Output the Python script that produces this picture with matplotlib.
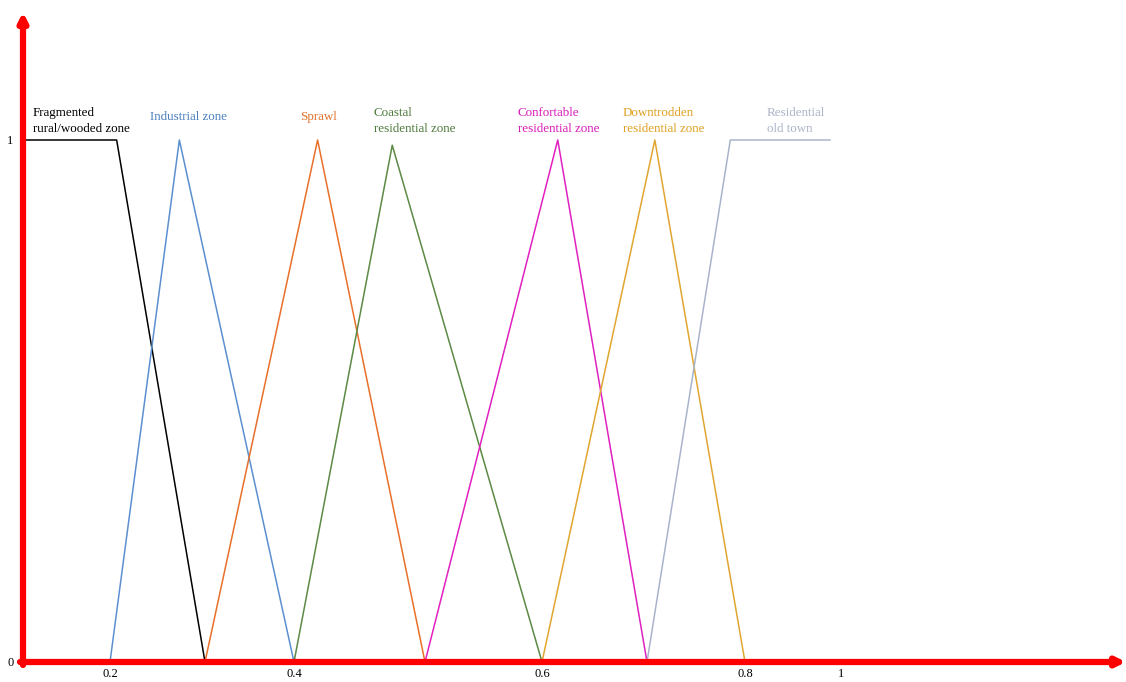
import numpy as np
import matplotlib.pyplot as plt

plt.rcParams['font.family'] = ['Liberation Serif', 'DejaVu Serif']

# the original drawing has an uneven x axis: value -> pixel anchors
scale_vals = [-0.1, 0.0, 0.2, 0.3, 0.4, 0.5, 0.6, 0.7, 0.8, 1.0, 1.7]
scale_px = [-20, 23, 110, 205, 294, 425, 542, 647, 745, 841, 1177]

# membership functions
frag_x = [0.0, 0.207, 0.3]
frag_y = [1, 1, 0]
indus_x = [0.2, 0.273, 0.4]
indus_y = [0, 1, 0]
sprawl_x = [0.3, 0.418, 0.5]
sprawl_y = [0, 1, 0]
coast_x = [0.4, 0.475, 0.6]
coast_y = [0, 0.99, 0]
confort_x = [0.5, 0.615, 0.7]
confort_y = [0, 1, 0]
down_x = [0.6, 0.708, 0.8]
down_y = [0, 1, 0]
old_x = [0.7, 0.785, 0.977]
old_y = [0, 1, 1]

xticks = [0.2, 0.4, 0.6, 0.8, 1.0]
xtick_labels = ['0.2', '0.4', '0.6', '0.8', '1']
yticks = [0, 1]
ytick_labels = ['0', '1']


def fwd(v):
    return np.interp(v, scale_vals, scale_px)


def inv(p):
    return np.interp(p, scale_px, scale_vals)


W, H = 1126, 682
fig = plt.figure(figsize=(W / 100, H / 100), dpi=100)
ax = fig.add_axes([23 / W, 20 / H, 1 - 23 / W, 1 - 20 / H])
ax.set_xscale('function', functions=(fwd, inv))
ax.set_xlim(0, inv(1126))
ax.set_ylim(0, 662 / 522)

series = [
    (frag_x, frag_y, '#000000'),
    (indus_x, indus_y, '#5b8fd0'),
    (sprawl_x, sprawl_y, '#e8702a'),
    (coast_x, coast_y, '#5c8a44'),
    (confort_x, confort_y, '#e020c0'),
    (down_x, down_y, '#e0a630'),
    (old_x, old_y, '#a9b4cb'),
]
for xs, ys, c in series:
    ax.plot(xs, ys, color=c, lw=1.1)

for s in ax.spines.values():
    s.set_visible(False)
ax.set_xticks(xticks)
ax.set_xticklabels(xtick_labels)
ax.set_yticks(yticks)
ax.set_yticklabels(ytick_labels)
ax.tick_params(axis='x', length=0, labelsize=9, pad=4.5)
ax.tick_params(axis='y', length=0, labelsize=9, pad=7)
ax.minorticks_off()

# red arrow axes
arrow = dict(arrowstyle='-|>,head_length=0.5,head_width=0.25', color='#ff0000',
             lw=4.5, shrinkA=0, shrinkB=0)
ax.annotate('', xy=(0, 650 / 662), xytext=(0, -3 / 662), xycoords='axes fraction',
            arrowprops=arrow, annotation_clip=False)
ax.annotate('', xy=(1.0, 0), xytext=(-3 / 1103, 0), xycoords='axes fraction',
            arrowprops=arrow, annotation_clip=False)

labels = [
    (33, 121, 'Fragmented\nrural/wooded zone', '#000000'),
    (150, 117, 'Industrial zone', '#4a7fc0'),
    (300, 117, 'Sprawl', '#e0702a'),
    (374, 121, 'Coastal\nresidential zone', '#4e7a3c'),
    (518, 121, 'Confortable\nresidential zone', '#d81bb8'),
    (623, 121, 'Downtrodden\nresidential zone', '#e0a020'),
    (767, 121, 'Residential\nold town', '#aab4c8'),
]
for px, py, txt, c in labels:
    fig.text(px / W, 1 - py / H, txt, color=c, fontsize=9.4, ha='left',
             va='center', linespacing=1.35)

fig.savefig('out.png', dpi=100)
